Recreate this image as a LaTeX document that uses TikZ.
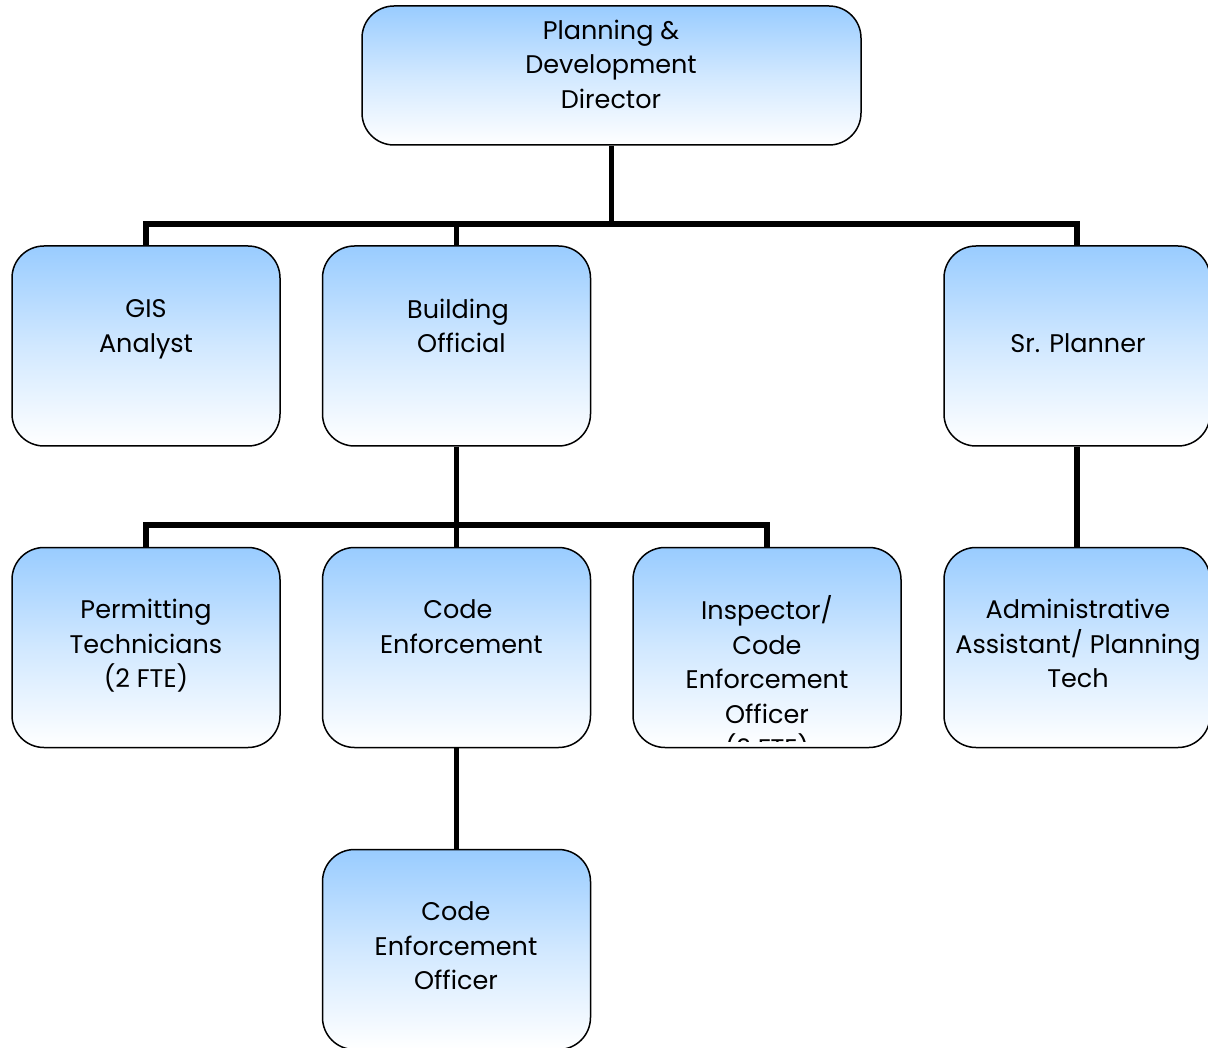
\documentclass[tikz,border=0pt]{standalone}
\usepackage{fontspec}
\setmainfont{Poppins}
\definecolor{boxblue}{RGB}{153,204,255}
\tikzset{
  orgbox/.style={draw=black, line width=1.5pt, rounded corners=32pt,
    top color=boxblue, bottom color=white, middle color=boxblue!45!white,
    minimum width=#1, minimum height=200pt, inner sep=0pt},
  orgbox/.default=268pt,
  txt/.style={align=center, inner sep=0pt, font=\fontsize{25.5}{34.5}\selectfont,
    execute at begin node=\strut, execute at end node=\strut},
  conn/.style={line width=5.5pt, line join=miter}
}
\begin{document}
\begin{tikzpicture}[x=1pt,y=-1pt]
\clip (0,0) rectangle (1208,1048);
% boxes
\node[orgbox=499pt, minimum height=139pt] (dir) at (611.5,75.5) {};
\node[orgbox] (gis) at (146,346) {};
\node[orgbox] (bo)  at (456.5,346) {};
\node[orgbox=266pt] (sr)  at (1077,346) {};
\node[orgbox] (pt)  at (146,647.5) {};
\node[orgbox] (ce)  at (456.5,647.5) {};
\node[orgbox] (ins) at (767,647.5) {};
\node[orgbox=266pt] (adm) at (1077,647.5) {};
\node[orgbox] (ceo) at (456.5,949.5) {};
% texts
\node[txt] (tdir) at (611,69) {Planning \&\\Development\\Director};
\node[txt] (tgis) at (146,331) {GIS\\Analyst};
\node[txt] (tbo) at (458,331) {Building\\\ Official};
\node[txt] (tsr) at (1078,346) {Sr. Planner};
\node[txt] (tpt) at (146,648.5) {Permitting\\Technicians\\(2 FTE)};
\node[txt] (tce) at (458,631.5) {Code\\\ Enforcement};
\begin{scope}
\clip (633,560) rectangle (901,741);
\node[txt] (tins) at (767,682) {Inspector/\\Code\\Enforcement\\Officer\\(2 FTE)};
\end{scope}
\node[txt] (tadm) at (1078,648.5) {Administrative\\Assistant/ Planning\\Tech};
\node[txt] (tceo) at (456,951) {Code\\Enforcement\\Officer};
% connectors
\coordinate (j1) at (611.5,224);
\coordinate (j2) at (456.5,525);
\draw[conn] (dir.south) -- (j1);
\draw[conn] (gis.north) -- (gis.north |- j1) -- (sr.north |- j1) -- (sr.north);
\draw[conn] (bo.north) -- (bo.north |- j1);
\draw[conn] (bo.south) -- (j2);
\draw[conn] (pt.north) -- (pt.north |- j2) -- (ins.north |- j2) -- (ins.north);
\draw[conn] (ce.north) -- (ce.north |- j2);
\draw[conn] (sr.south) -- (adm.north);
\draw[conn] (ce.south) -- (ceo.north);
\end{tikzpicture}
\end{document}
